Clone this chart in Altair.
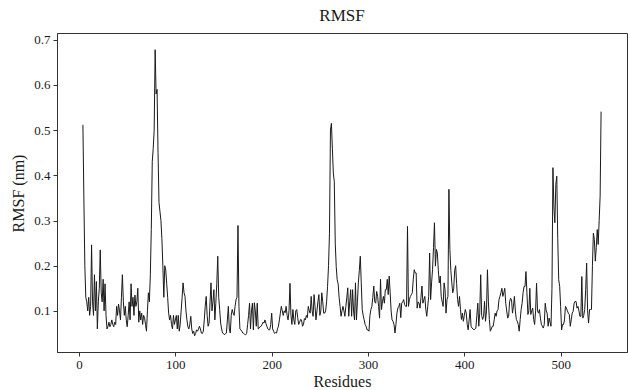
import altair as alt
import pandas as pd

# RMSF values (nm), one per residue
start_a = 4
rmsf_a = [0.512, 0.35, 0.20, 0.13, 0.12, 0.10,
          0.13, 0.09, 0.11, 0.246, 0.12, 0.09, 0.18, 0.10, 0.165, 0.06,
          0.12, 0.15, 0.235, 0.14, 0.12, 0.17, 0.10, 0.16, 0.09, 0.06,
          0.065, 0.075, 0.065, 0.07, 0.08, 0.07, 0.065, 0.075, 0.07, 0.11,
          0.09, 0.115, 0.10, 0.08, 0.13, 0.18, 0.12, 0.09, 0.11, 0.08,
          0.065, 0.09, 0.12, 0.08, 0.16, 0.11, 0.13, 0.09, 0.135, 0.11,
          0.12, 0.15, 0.075, 0.10, 0.08, 0.095, 0.07, 0.09, 0.085, 0.07,
          0.055, 0.10, 0.14, 0.12, 0.18, 0.28, 0.43, 0.46, 0.50, 0.678,
          0.58, 0.59, 0.45, 0.34, 0.32, 0.30, 0.26, 0.20, 0.13, 0.20,
          0.19, 0.16, 0.13, 0.095, 0.08, 0.09, 0.07, 0.06, 0.09, 0.07]

start_b = 100
rmsf_b = [0.08, 0.09, 0.06, 0.09, 0.055, 0.07, 0.10, 0.13, 0.162, 0.14,
          0.132, 0.10, 0.08, 0.065, 0.06, 0.07, 0.088, 0.06, 0.05, 0.055,
          0.045, 0.05, 0.058, 0.055, 0.06, 0.066, 0.06, 0.051, 0.05, 0.055,
          0.08, 0.11, 0.132, 0.09, 0.066, 0.073, 0.12, 0.162, 0.10, 0.12,
          0.147, 0.08, 0.117, 0.16, 0.221, 0.13, 0.103, 0.073, 0.06, 0.051,
          0.05, 0.047, 0.05, 0.051, 0.08, 0.11, 0.06, 0.051, 0.09, 0.103,
          0.095, 0.09, 0.11, 0.125, 0.13, 0.289, 0.11, 0.06, 0.058, 0.055,
          0.051, 0.05, 0.048, 0.047, 0.05, 0.07, 0.09, 0.117, 0.06, 0.10,
          0.117, 0.058, 0.118, 0.10, 0.066, 0.117, 0.06, 0.062, 0.065, 0.066,
          0.07, 0.075, 0.073, 0.08, 0.072, 0.066, 0.06, 0.058, 0.058, 0.07]

start_c = 200
rmsf_c = [0.095, 0.06, 0.055, 0.05, 0.052, 0.051, 0.06, 0.066, 0.08, 0.095,
          0.11, 0.10, 0.09, 0.10, 0.096, 0.11, 0.09, 0.08, 0.10, 0.161,
          0.09, 0.07, 0.103, 0.08, 0.07, 0.10, 0.103, 0.085, 0.07, 0.075,
          0.081, 0.08, 0.066, 0.07, 0.083, 0.08, 0.09, 0.085, 0.11, 0.10,
          0.095, 0.132, 0.10, 0.088, 0.136, 0.11, 0.08, 0.10, 0.12, 0.136,
          0.09, 0.10, 0.14, 0.12, 0.095, 0.095, 0.10, 0.12, 0.154, 0.20,
          0.272, 0.50, 0.515, 0.46, 0.405, 0.386, 0.25, 0.198, 0.169, 0.16,
          0.13, 0.11, 0.088, 0.10, 0.11, 0.10, 0.088, 0.11, 0.13, 0.151,
          0.088, 0.12, 0.147, 0.088, 0.147, 0.10, 0.08, 0.162, 0.08, 0.12,
          0.162, 0.19, 0.221, 0.162, 0.103, 0.09, 0.08, 0.07, 0.066, 0.058]

start_d = 300
rmsf_d = [0.058, 0.055, 0.09, 0.103, 0.11, 0.13, 0.155, 0.12, 0.117, 0.143,
          0.132, 0.11, 0.084, 0.17, 0.103, 0.12, 0.132, 0.117, 0.147, 0.147,
          0.17, 0.136, 0.177, 0.14, 0.10, 0.08, 0.077, 0.07, 0.051, 0.07,
          0.095, 0.106, 0.11, 0.117, 0.085, 0.117, 0.12, 0.125, 0.114, 0.11,
          0.11, 0.287, 0.11, 0.125, 0.132, 0.136, 0.14, 0.17, 0.191, 0.184,
          0.184, 0.106, 0.12, 0.117, 0.106, 0.13, 0.155, 0.117, 0.125, 0.132,
          0.103, 0.088, 0.11, 0.132, 0.228, 0.125, 0.162, 0.191, 0.24, 0.295,
          0.199, 0.236, 0.228, 0.19, 0.162, 0.177, 0.132, 0.12, 0.11, 0.162,
          0.147, 0.095, 0.125, 0.132, 0.369, 0.236, 0.19, 0.162, 0.14, 0.15,
          0.19, 0.2, 0.16, 0.125, 0.11, 0.132, 0.103, 0.081, 0.095, 0.077]

start_e = 400
rmsf_e = [0.09, 0.103, 0.095, 0.07, 0.058, 0.08, 0.103, 0.066, 0.062, 0.06,
          0.058, 0.06, 0.062, 0.09, 0.117, 0.066, 0.095, 0.18, 0.09, 0.081,
          0.088, 0.121, 0.077, 0.1, 0.191, 0.12, 0.081, 0.055, 0.06, 0.066,
          0.066, 0.08, 0.095, 0.088, 0.1, 0.103, 0.125, 0.132, 0.14, 0.15,
          0.132, 0.14, 0.15, 0.117, 0.1, 0.084, 0.088, 0.12, 0.128, 0.125,
          0.095, 0.11, 0.132, 0.1, 0.081, 0.077, 0.07, 0.055, 0.081, 0.103,
          0.117, 0.14, 0.154, 0.154, 0.187, 0.14, 0.092, 0.1, 0.15, 0.092,
          0.1, 0.106, 0.081, 0.07, 0.1, 0.161, 0.1, 0.095, 0.103, 0.084,
          0.07, 0.066, 0.062, 0.07, 0.117, 0.1, 0.095, 0.066, 0.084, 0.075,
          0.066, 0.15, 0.417, 0.33, 0.295, 0.38, 0.398, 0.26, 0.169, 0.154]

start_f = 500
rmsf_f = [0.11, 0.058, 0.07, 0.07, 0.08, 0.11, 0.106, 0.1, 0.095, 0.092,
          0.066, 0.08, 0.095, 0.099, 0.117, 0.121, 0.121, 0.106, 0.11, 0.1,
          0.088, 0.088, 0.176, 0.084, 0.09, 0.103, 0.147, 0.206, 0.1, 0.073,
          0.103, 0.103, 0.103, 0.2, 0.272, 0.258, 0.21, 0.24, 0.28, 0.247,
          0.3, 0.354, 0.541]

x_ticks = [0, 100, 200, 300, 400, 500]
y_ticks = [0.1, 0.2, 0.3, 0.4, 0.5, 0.6, 0.7]

rows = []
for s, seg in [(start_a, rmsf_a), (start_b, rmsf_b), (start_c, rmsf_c),
               (start_d, rmsf_d), (start_e, rmsf_e), (start_f, rmsf_f)]:
    for i, v in enumerate(seg):
        rows.append({"residue": s + i, "rmsf": v})
df = pd.DataFrame(rows)

FONT = "Liberation Serif"

chart = alt.Chart(df).mark_line(color="#1a1a1a", strokeWidth=1).encode(
    x=alt.X("residue:Q", scale=alt.Scale(domain=[-22.9, 568.9], nice=False, zero=False),
            axis=alt.Axis(title="Residues", values=x_ticks, format="d", grid=False,
                          tickSize=4, labelPadding=2, titleFontSize=16,
                          titleFontWeight="normal", titleY=34, titleBaseline="alphabetic")),
    y=alt.Y("rmsf:Q", scale=alt.Scale(domain=[0.009, 0.715], nice=False, zero=False),
            axis=alt.Axis(title="RMSF (nm)", values=y_ticks, format=".1f", grid=False,
                          tickSize=4, labelPadding=3, titleFontSize=16,
                          titleFontWeight="normal", titleX=-39, titleY=160,
                          titleAngle=-90, titleAlign="center", titleBaseline="middle")),
).properties(
    width=570, height=319,
    title=alt.TitleParams("RMSF", fontSize=17, font=FONT, fontWeight="normal",
                          color="#1a1a1a", offset=8),
    autosize=alt.AutoSizeParams(type="none"),
    padding={"left": 57, "top": 33, "right": 1, "bottom": 38},
).configure_axis(
    labelFont=FONT, titleFont=FONT, labelFontSize=13, labelColor="#1a1a1a",
    titleColor="#1a1a1a", domainColor="#333333", tickColor="#333333",
).configure_view(
    stroke="#333333", strokeWidth=1
)

chart.save("out.html", embed_options={"renderer": "svg", "actions": False})
